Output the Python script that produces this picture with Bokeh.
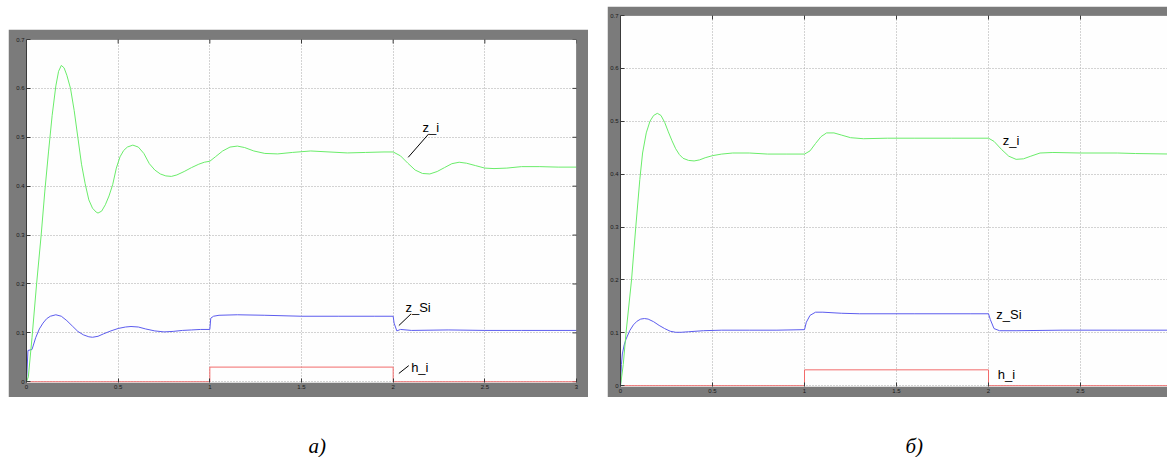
import math
from bokeh.plotting import figure
from bokeh.models import FixedTicker, Range1d, Label, Spacer, Span
from bokeh.layouts import row, column
from bokeh.embed import file_html
from bokeh.resources import INLINE

# ---------------- data ----------------
x_ticks = [0, 0.5, 1, 1.5, 2, 2.5, 3]
x_tick_labels = ["0", "0.5", "1", "1.5", "2", "2.5", "3"]
y_ticks = [0, 0.1, 0.2, 0.3, 0.4, 0.5, 0.6, 0.7]
y_tick_labels = ["0", "0.1", "0.2", "0.3", "0.4", "0.5", "0.6", "0.7"]

# panel a)
t_a_zi = [0, 0.01, 0.03, 0.055, 0.08, 0.10, 0.12, 0.14, 0.16, 0.175,
          0.19, 0.205, 0.22, 0.24, 0.26, 0.28, 0.30, 0.32, 0.34, 0.36,
          0.38, 0.39, 0.41, 0.43, 0.45, 0.47, 0.49, 0.51, 0.53, 0.55,
          0.58, 0.61, 0.64, 0.67, 0.70, 0.73, 0.76, 0.79, 0.82, 0.86,
          0.90, 0.94, 0.97, 1.00, 1.03, 1.07, 1.11, 1.15, 1.19, 1.24,
          1.30, 1.37, 1.45, 1.55, 1.65, 1.75, 1.85, 1.95, 2.00, 2.04,
          2.08, 2.12, 2.16, 2.20, 2.24, 2.28, 2.32, 2.36, 2.40, 2.45,
          2.50, 2.55, 2.62, 2.70, 2.80, 2.90, 3.00]
v_a_zi = [0, 0.01, 0.09, 0.20, 0.30, 0.39, 0.47, 0.545, 0.605, 0.635,
          0.647, 0.642, 0.627, 0.60, 0.555, 0.50, 0.445, 0.405, 0.372, 0.355,
          0.347, 0.345, 0.349, 0.362, 0.38, 0.403, 0.437, 0.46, 0.473, 0.48,
          0.484, 0.48, 0.467, 0.446, 0.433, 0.425, 0.421, 0.42, 0.423, 0.43,
          0.438, 0.445, 0.449, 0.451, 0.46, 0.472, 0.48, 0.482, 0.479, 0.472,
          0.467, 0.466, 0.469, 0.472, 0.47, 0.468, 0.469, 0.47, 0.47, 0.462,
          0.447, 0.433, 0.426, 0.425, 0.43, 0.438, 0.446, 0.449, 0.447, 0.442,
          0.437, 0.436, 0.437, 0.44, 0.44, 0.439, 0.439]

t_a_zsi = [0, 0.008, 0.03, 0.05, 0.07, 0.09, 0.11, 0.13, 0.16, 0.19,
           0.22, 0.25, 0.28, 0.31, 0.34, 0.36, 0.39, 0.42, 0.46, 0.50,
           0.54, 0.57, 0.61, 0.65, 0.70, 0.75, 0.80, 0.85, 0.90, 0.95,
           1.00, 1.005, 1.02, 1.05, 1.15, 1.30, 1.50, 1.70, 1.90, 2.00,
           2.005, 2.02, 2.04, 2.10, 2.30, 2.50, 2.70, 3.00]
v_a_zsi = [0, 0.064, 0.066, 0.09, 0.108, 0.12, 0.129, 0.134, 0.137, 0.134,
           0.125, 0.114, 0.103, 0.096, 0.092, 0.091, 0.093, 0.098, 0.104, 0.109,
           0.112, 0.113, 0.112, 0.108, 0.104, 0.102, 0.103, 0.105, 0.106, 0.107,
           0.107, 0.13, 0.134, 0.136, 0.137, 0.136, 0.134, 0.134, 0.134, 0.134,
           0.12, 0.104, 0.107, 0.105, 0.106, 0.105, 0.105, 0.105]

t_a_hi = [0, 1, 1, 2, 2, 3]
v_a_hi = [0, 0, 0.03, 0.03, 0, 0]

# panel б)
t_b_zi = [0, 0.015, 0.03, 0.06, 0.083, 0.105, 0.12, 0.14, 0.16, 0.18,
          0.20, 0.22, 0.24, 0.26, 0.28, 0.30, 0.32, 0.34, 0.37, 0.40,
          0.43, 0.46, 0.50, 0.55, 0.61, 0.70, 0.80, 0.90, 1.00, 1.03,
          1.06, 1.09, 1.12, 1.16, 1.20, 1.25, 1.32, 1.45, 1.60, 1.80,
          2.00, 2.03, 2.07, 2.11, 2.15, 2.19, 2.23, 2.28, 2.35, 2.50,
          2.70, 2.80, 3.00]
v_b_zi = [0, 0.04, 0.10, 0.20, 0.30, 0.39, 0.44, 0.478, 0.50, 0.511,
          0.515, 0.511, 0.498, 0.48, 0.463, 0.448, 0.437, 0.43, 0.426, 0.425,
          0.427, 0.431, 0.435, 0.438, 0.44, 0.44, 0.438, 0.438, 0.438, 0.444,
          0.458, 0.471, 0.478, 0.478, 0.474, 0.469, 0.467, 0.468, 0.468, 0.468,
          0.468, 0.462, 0.447, 0.434, 0.428, 0.429, 0.434, 0.44, 0.441, 0.44,
          0.44, 0.439, 0.438]

t_b_zsi = [0, 0.005, 0.01, 0.02, 0.03, 0.05, 0.07, 0.09, 0.11, 0.13,
           0.15, 0.18, 0.21, 0.24, 0.27, 0.30, 0.33, 0.37, 0.45, 0.55,
           0.70, 0.85, 1.00, 1.01, 1.03, 1.06, 1.10, 1.20, 1.30, 1.60,
           1.90, 2.00, 2.01, 2.03, 2.06, 2.15, 2.40, 2.70, 3.00]
v_b_zsi = [0, 0.04, 0.06, 0.077, 0.088, 0.104, 0.115, 0.122, 0.126, 0.127,
           0.126, 0.121, 0.114, 0.108, 0.103, 0.101, 0.101, 0.102, 0.104, 0.105,
           0.105, 0.105, 0.106, 0.12, 0.133, 0.139, 0.139, 0.137, 0.136, 0.136,
           0.136, 0.136, 0.125, 0.108, 0.104, 0.104, 0.105, 0.105, 0.105]

t_b_hi = [0, 1, 1, 2, 2, 3]
v_b_hi = [0, 0, 0.03, 0.03, 0, 0]

series_names = ["z_i", "z_Si", "h_i"]
captions = ["а)", "б)"]

# annotation positions (data coords): label x, label baseline y
a_label_pos = {"z_i": (2.16, 0.52), "z_Si": (2.067, 0.151), "h_i": (2.098, 0.029)}
a_leaders = {"x0": [2.082, 2.031, 2.031], "y0": [0.459, 0.115, 0.017],
             "x1": [2.194, 2.098, 2.085], "y1": [0.507, 0.139, 0.033]}
b_label_pos = {"z_i": (2.078, 0.464), "z_Si": (2.042, 0.135), "h_i": (2.05, 0.021)}

# ---------------- styles ----------------
GRAY = "#7b7b7b"
AXC = "#3a3a3a"
GREEN = "#6aec6a"
BLUE = "#5c5cee"
RED = "#f26b6b"
TICK_FONT = "Liberation Sans"
Y_MIN, Y_MAX = -0.0015, 0.7


def style_axis(ax, ticks, labels, line=True):
    ax.ticker = FixedTicker(ticks=ticks)
    ax.major_label_overrides = {t: l for t, l in zip(ticks, labels)}
    ax.major_tick_in = 4
    ax.major_tick_out = 0
    ax.minor_tick_line_color = None
    ax.major_tick_line_color = AXC
    ax.axis_line_color = AXC if line else None
    ax.major_label_text_font = TICK_FONT
    ax.major_label_text_color = "#1a1a1a"
    ax.major_label_text_font_size = "6px"
    ax.major_label_standoff = 2


def make_panel(xend, fw, fh, bl, br, bt, bb, right_side):
    p = figure(frame_width=fw, frame_height=fh,
               x_range=Range1d(0, xend), y_range=Range1d(Y_MIN, Y_MAX),
               output_backend="svg", toolbar_location=None,
               min_border_left=bl, min_border_right=br,
               min_border_top=bt, min_border_bottom=bb)
    p.border_fill_color = GRAY
    p.background_fill_color = "#fefefe"
    p.outline_line_color = None
    style_axis(p.xaxis[0], x_ticks, x_tick_labels, line=False)
    style_axis(p.yaxis[0], y_ticks, y_tick_labels)
    p.xgrid.ticker = FixedTicker(ticks=x_ticks)
    p.ygrid.ticker = FixedTicker(ticks=y_ticks)
    for g in (p.xgrid, p.ygrid):
        g.grid_line_color = "#a9a9a9"
        g.grid_line_dash = "1 2"
        g.grid_line_width = 1
    # box: top edge (and right edge) with inward ticks
    p.add_layout(Span(location=Y_MAX, dimension="width", line_color=AXC, line_width=1))
    p.scatter(x_ticks, [Y_MAX] * len(x_ticks), marker="dash", size=8,
              angle=math.pi / 2, line_color=AXC, line_width=1)
    if right_side:
        p.add_layout(Span(location=xend, dimension="height", line_color=AXC, line_width=1))
        p.scatter([xend] * len(y_ticks), y_ticks, marker="dash", size=8,
                  line_color=AXC, line_width=1)
    return p


def add_label(p, pos, text):
    p.add_layout(Label(x=pos[0], y=pos[1], text=text,
                       text_font="Liberation Sans", text_font_size="13px",
                       text_color="#000000", text_baseline="alphabetic",
                       text_align="left"))


# ---------------- panel a ----------------
pa = make_panel(3, 550, 343, 18, 12, 10, 15, True)
pa.line(t_a_hi, v_a_hi, line_color=RED, line_width=1)
pa.line(t_a_zsi, v_a_zsi, line_color=BLUE, line_width=1)
pa.line(t_a_zi, v_a_zi, line_color=GREEN, line_width=1)
pa.segment(x0=a_leaders["x0"], y0=a_leaders["y0"], x1=a_leaders["x1"], y1=a_leaders["y1"],
           line_color="#000000", line_width=1)
for n in series_names:
    add_label(pa, a_label_pos[n], n)

# ---------------- panel b ----------------
pb = make_panel(547 / 184, 547, 371, 13, 0, 9, 11, False)
pb.line(t_b_hi, v_b_hi, line_color=RED, line_width=1)
pb.line(t_b_zsi, v_b_zsi, line_color=BLUE, line_width=1)
pb.line(t_b_zi, v_b_zi, line_color=GREEN, line_width=1)
for n in series_names:
    add_label(pb, b_label_pos[n], n)

# ---------------- captions ----------------
cap = figure(width=1167, height=60, output_backend="svg", toolbar_location=None,
             x_axis_type=None, y_axis_type=None, min_border=0,
             x_range=Range1d(0, 1167), y_range=Range1d(0, 60))
cap.outline_line_color = None
cap.grid.visible = False
cap.background_fill_color = "white"
cap.border_fill_color = "white"
for cx, txt in zip([308, 905], captions):
    cap.add_layout(Label(x=cx, y=12, x_units="screen", y_units="screen", text=txt,
                         text_font="Liberation Serif", text_font_style="italic",
                         text_font_size="21px", text_color="#000000",
                         text_baseline="alphabetic"))

layout = column(
    row(Spacer(width=8, height=10),
        column(Spacer(width=580, height=29), pa),
        Spacer(width=19, height=10),
        column(Spacer(width=560, height=6), pb)),
    cap,
)

open("out.html", "w").write(file_html(layout, INLINE))
